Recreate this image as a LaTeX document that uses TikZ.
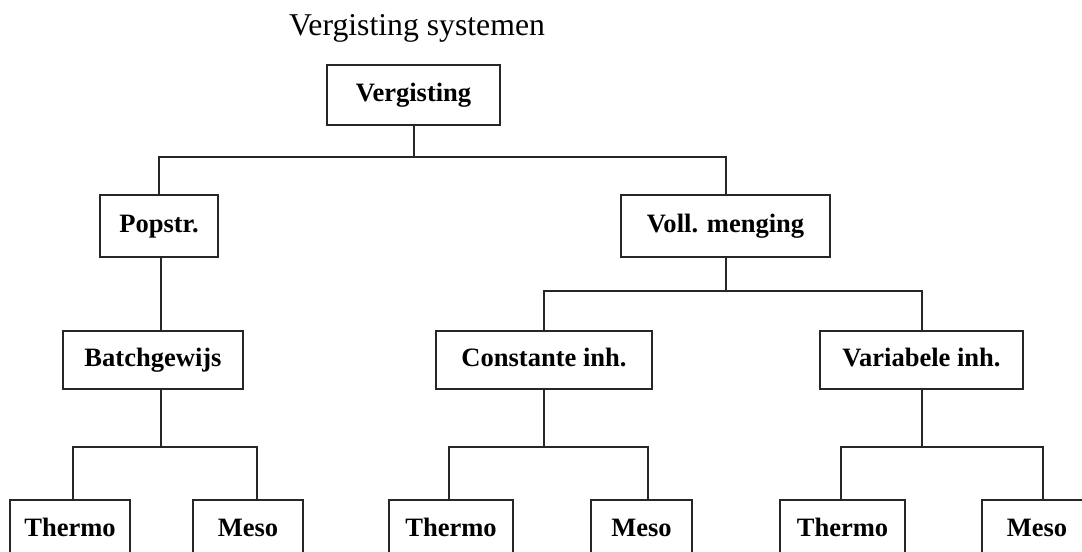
\documentclass[tikz,border=0pt]{standalone}
\usepackage{fontspec}
\setmainfont{Liberation Serif}
\usepackage{tikz}
\tikzset{
  vbox/.style={draw=black!85, line width=1.5pt, inner sep=0pt, minimum height=45pt,
    text height=1.15em, text depth=0.15em,
    font=\bfseries\fontsize{19.9}{24}\selectfont},
  vline/.style={draw=black!85, line width=1.5pt}
}

\begin{document}
\begin{tikzpicture}[x=0.75pt, y=-0.75pt]
    \useasboundingbox (0,0) rectangle (1082,551);
    \clip (0,0) rectangle (1082,551);
    \node[anchor=base, font=\fontsize{23.8}{28}\selectfont] (title) at (417,35) {Vergisting systemen};
    \node[vbox, minimum width=129.75pt] (verg) at (413.5,95) {Vergisting};
    \node[vbox, minimum width=88.5pt, minimum height=46.5pt] (popstr) at (159,226) {Popstr.};
    \node[vbox, minimum width=156.75pt, minimum height=46.5pt] (voll) at (725.5,226) {Voll. menging};
    \node[vbox, minimum width=135pt, minimum height=43.5pt] (batch) at (153,360) {Batchgewijs};
    \node[vbox, minimum width=162pt, minimum height=43.5pt] (const) at (544,360) {Constante inh.};
    \node[vbox, minimum width=152.25pt, minimum height=43.5pt] (var) at (921.5,360) {Variabele inh.};
    \node[vbox, minimum width=90pt] (thermoA) at (70,530) {Thermo};
    \node[vbox, minimum width=82.5pt] (mesoA) at (248,530) {Meso};
    \node[vbox, minimum width=93pt] (thermoB) at (451,530) {Thermo};
    \node[vbox, minimum width=75.75pt] (mesoB) at (641.5,530) {Meso};
    \node[vbox, minimum width=93.75pt] (thermoC) at (842.5,530) {Thermo};
    \node[vbox, minimum width=82.5pt] (mesoC) at (1037,530) {Meso};
    % tree lines
    \draw[vline] (verg.south) -- ++(0,31) -| (popstr.north);
    \draw[vline] (verg.south) -- ++(0,31) -| (voll.north);
    \draw[vline] ([xshift=1.5]popstr.south) -- ([xshift=1.5]popstr.south |- batch.north);
    \draw[vline] (batch.south -| popstr.south) ++(1.5,0) -- ++(0,57) -| ([xshift=2.25]thermoA.north);
    \draw[vline] (batch.south -| popstr.south) ++(1.5,0) -- ++(0,57) -| ([xshift=6.75]mesoA.north);
    \draw[vline] (voll.south) -- ++(0,33) -| (const.north);
    \draw[vline] (voll.south) -- ++(0,33) -| (var.north);
    \draw[vline] (const.south) -- ++(0,57) -| ([xshift=-1.5]thermoB.north);
    \draw[vline] (const.south) -- ++(0,57) -| ([xshift=4.5]mesoB.north);
    \draw[vline] (var.south) -- ++(0,57) -| ([xshift=-1.5]thermoC.north);
    \draw[vline] (var.south) -- ++(0,57) -| ([xshift=4.5]mesoC.north);
  \end{tikzpicture}
\end{document}
